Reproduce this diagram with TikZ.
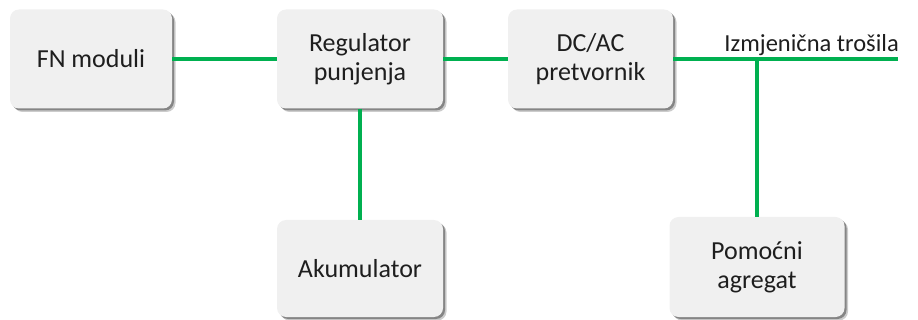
\documentclass[tikz,border=0pt]{standalone}
\usepackage{fontspec}
\setmainfont{Carlito}
\usetikzlibrary{shadows}
\definecolor{linegreen}{HTML}{00B050}
\definecolor{boxfill}{HTML}{F0F0F0}
\definecolor{txt}{HTML}{1E1E1E}
\begin{document}
\begin{tikzpicture}[x=1pt,y=-1pt,
  blockbox/.style={draw=none, fill=boxfill, rounded corners=9pt, minimum height=99pt,
    align=center, text=txt, font=\fontsize{26}{29}\selectfont,
    drop shadow={shadow xshift=3.5pt, shadow yshift=-3.5pt, fill=black, opacity=0.2},
    drop shadow={shadow xshift=2pt, shadow yshift=-2pt, fill=black, opacity=0.35}},
  wire/.style={draw=linegreen, line width=3.5pt}]
\useasboundingbox (0,0) rectangle (918,320);
\node[blockbox, minimum width=162pt] (fn) at (91,59) {FN moduli};
\node[blockbox, minimum width=166pt] (reg) at (360,59) {Regulator\\punjenja};
\node[blockbox, minimum width=165pt] (dcac) at (590.5,59) {DC/AC\\pretvornik};
\node[blockbox, minimum width=166pt, minimum height=97pt] (aku) at (360,268.5) {Akumulator};
\node[blockbox, minimum width=175pt, minimum height=100pt] (pom) at (757,267) {Pomoćni\\agregat};
\coordinate (end) at (898,59);
\coordinate (jn) at (757,59);
\node[anchor=base east, text=txt, font=\fontsize{24.5}{29}\selectfont, inner sep=0pt] (lbl) at (899,52) {Izmjenična trošila};
\draw[wire] (fn) -- (reg);
\draw[wire] (reg) -- (dcac);
\draw[wire] (reg) -- (aku);
\draw[wire] (dcac) -- (end);
\draw[wire] (jn) -- (pom);
\end{tikzpicture}
\end{document}
